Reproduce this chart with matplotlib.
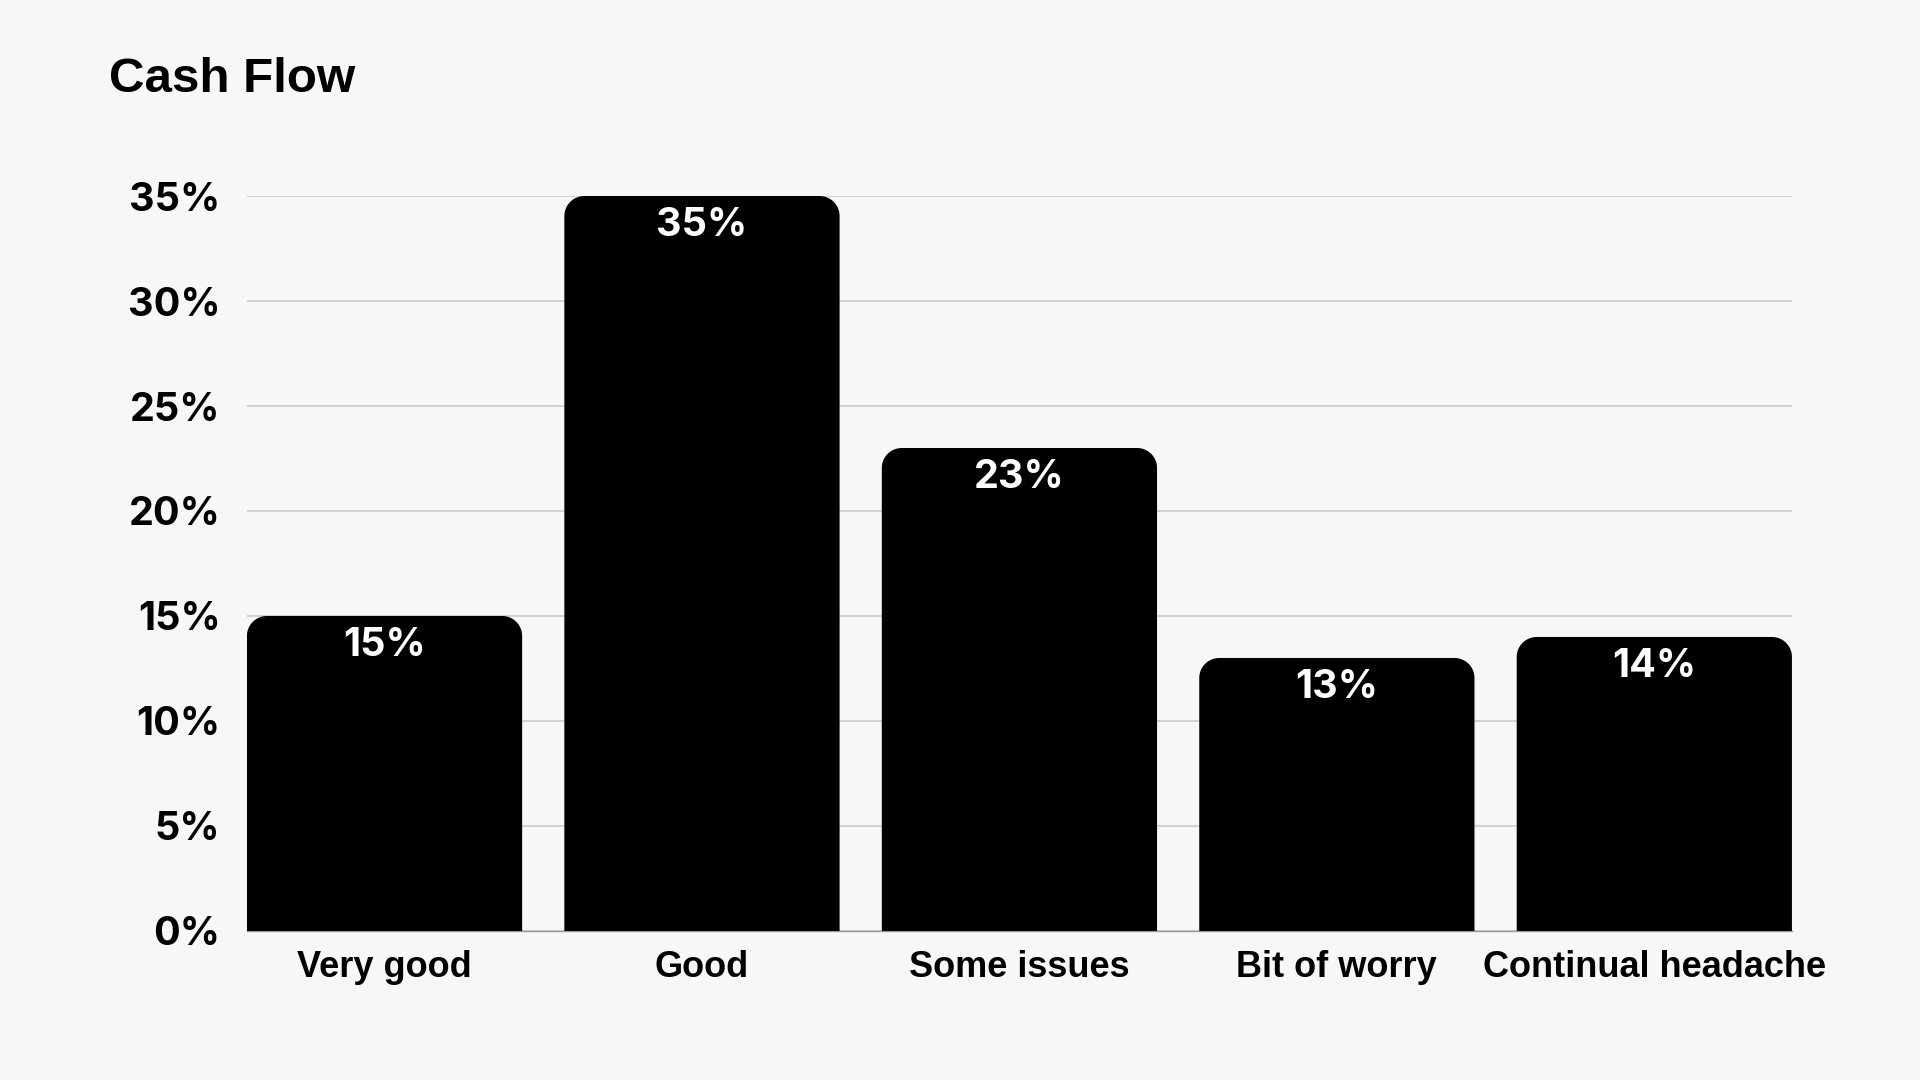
import numpy as np
import matplotlib
matplotlib.use("Agg")
import matplotlib.pyplot as plt
from matplotlib.patches import PathPatch
from matplotlib.path import Path

plt.rcParams["font.family"] = ["Liberation Sans", "DejaVu Sans"]
plt.rcParams["font.weight"] = "bold"
FONTE_NUM = ["Inter", "Liberation Sans", "DejaVu Sans"]

categorias = ["Very good", "Good", "Some issues", "Bit of worry", "Continual headache"]
valores = [15, 35, 23, 13, 14]
yticks = [0, 5, 10, 15, 20, 25, 30, 35]
ytick_labels = ["0%", "5%", "10%", "15%", "20%", "25%", "30%", "35%"]

BG = "#f7f7f7"
LARG = 0.867

fig = plt.figure(figsize=(19.2, 10.8), dpi=100, facecolor=BG)
ax = fig.add_axes([0.1286, 0.138, 0.8047, 0.6805], facecolor=BG)

x = np.arange(len(categorias))
barras = ax.bar(x, valores, width=LARG, color="black")


def barra_arredondada(x0, w, h, rx, ry):
    # contorno com os dois cantos de cima arredondados
    t = np.linspace(0, np.pi / 2, 24)
    pts = [(x0, 0), (x0 + w, 0)]
    pts += list(zip(x0 + w - rx + rx * np.cos(t), h - ry + ry * np.sin(t)))
    pts += list(zip(x0 + rx - rx * np.sin(t), h - ry + ry * np.cos(t)))
    pts.append((x0, 0))
    return Path(pts, closed=True)


raio_x = 0.063
raio_y = 0.95
for b in barras:
    x0, w, h = b.get_x(), b.get_width(), b.get_height()
    b.set_visible(False)
    ax.add_patch(PathPatch(barra_arredondada(x0, w, h, raio_x, raio_y),
                           fc="black", ec="none", zorder=3))

for xi, v in zip(x, valores):
    ax.annotate(f"{v}%", (xi, v), xytext=(0, -8), textcoords="offset points",
                ha="center", va="top", color="white", fontsize=28.5, fontweight="bold",
                family=FONTE_NUM, zorder=4)

ax.set_xlim(-LARG / 2, len(categorias) - 1 + LARG / 2)
ax.set_ylim(0, 35)
ax.set_yticks(yticks)
ax.set_yticklabels(ytick_labels)
ax.set_xticks(x)
ax.set_xticklabels(categorias)
ax.tick_params(axis="y", length=0, pad=19, labelsize=28.5)
ax.tick_params(axis="x", length=0, pad=14, labelsize=26)
for lab in ax.get_xticklabels():
    lab.set_fontweight("bold")
for lab in ax.get_yticklabels():
    lab.set_fontweight("bold")
    lab.set_family(FONTE_NUM)

ax.grid(axis="y", color="#cccccc", linewidth=1.2, zorder=0)
ax.set_axisbelow(True)
for lado in ["top", "right", "left"]:
    ax.spines[lado].set_visible(False)
ax.spines["bottom"].set_color("#999999")
ax.spines["bottom"].set_linewidth(1.0)

fig.text(0.0568, 1 - 57 / 1080, "Cash Flow", ha="left", va="top",
         fontsize=35.5, fontweight="bold")

fig.savefig("out.png", dpi=100, facecolor=BG)
plt.close(fig)
